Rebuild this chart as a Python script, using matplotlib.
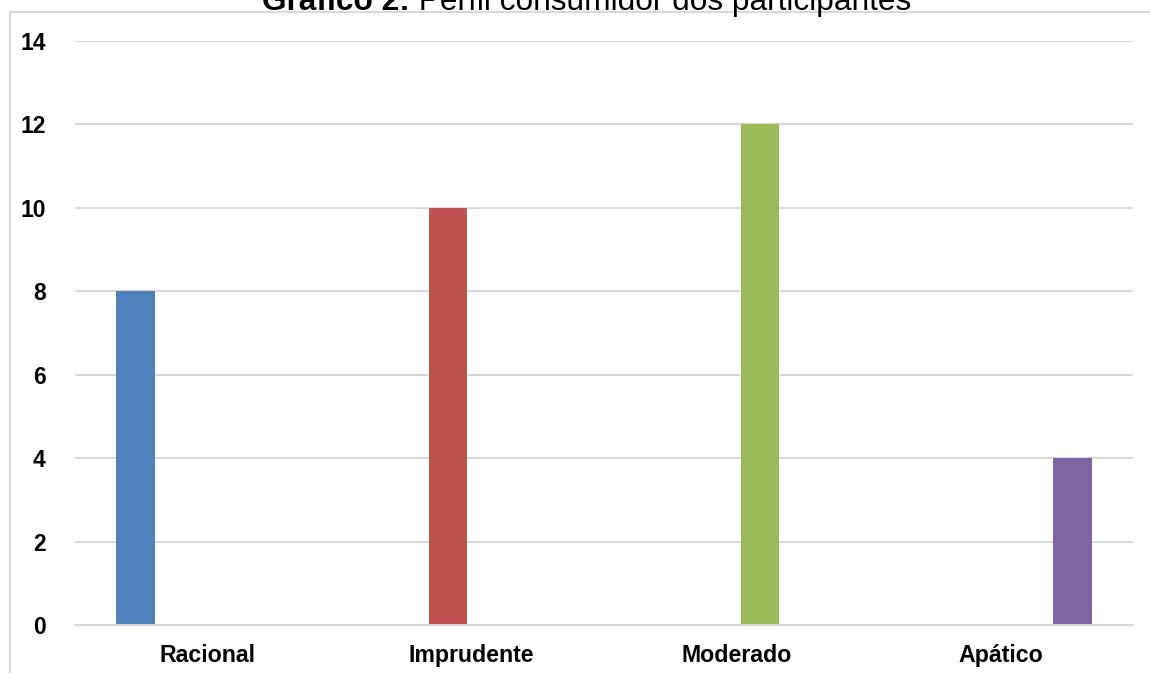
import matplotlib
matplotlib.use("Agg")
import matplotlib.pyplot as plt
from matplotlib.patches import Rectangle
import numpy as np

categories = ["Racional", "Imprudente", "Moderado", "Apático"]
values = [8, 10, 12, 4]
colors = ["#4F81BD", "#C0504D", "#9BBB59", "#8064A2"]
y_ticks = [0, 2, 4, 6, 8, 10, 12, 14]

plt.rcParams['font.family'] = ['Liberation Sans', 'DejaVu Sans']

W, H = 1150, 673
fig = plt.figure(figsize=(W / 100, H / 100), dpi=100)
fig.patch.set_facecolor("white")

# chart border (partly cropped)
fig.patches.append(Rectangle((10 / W, -0.2), 1.2, 1.2 - 12 / H, transform=fig.transFigure,
                             fill=False, edgecolor="#D9D9D9", linewidth=1.5, zorder=0))

ax = fig.add_axes([75 / W, 1 - 625 / H, (1133 - 75) / W, (625 - 41) / H])
n = len(categories)
x = np.arange(n)
bar_w = 0.146
offsets = [-0.272, -0.09, 0.09, 0.272]
for i in range(n):
    ax.bar(x[i] + offsets[i], values[i], width=bar_w, color=colors[i], zorder=3)

ax.set_xlim(-0.5, n - 0.5)
ax.set_ylim(0, 14)
ax.set_yticks(y_ticks)
ax.set_yticklabels([str(t) for t in y_ticks], fontsize=16.5, fontweight="bold")
ax.set_xticks(x)
ax.set_xticklabels(categories, fontsize=16.7, fontweight="bold")
ax.tick_params(axis="both", length=0)
ax.tick_params(axis="y", pad=21)
ax.tick_params(axis="x", pad=14)
for s in ["top", "right", "left"]:
    ax.spines[s].set_visible(False)
ax.spines["bottom"].set_color("#D9D9D9")
ax.spines["bottom"].set_linewidth(1.5)
ax.spines["bottom"].set_zorder(4)
ax.yaxis.grid(True, color="#D9D9D9", linewidth=1.5, zorder=0)
ax.set_axisbelow(True)

# title (partly cropped at top, as in the reference)
ty = 1 - 10 / H
fig.text(410 / W, ty, "Gráfico 2:", ha="right", va="baseline", fontsize=22.8, fontweight="bold")
fig.text(410 / W, ty, " Perfil consumidor dos participantes", ha="left", va="baseline", fontsize=22.8)

fig.savefig("out.png", dpi=100, facecolor="white")
